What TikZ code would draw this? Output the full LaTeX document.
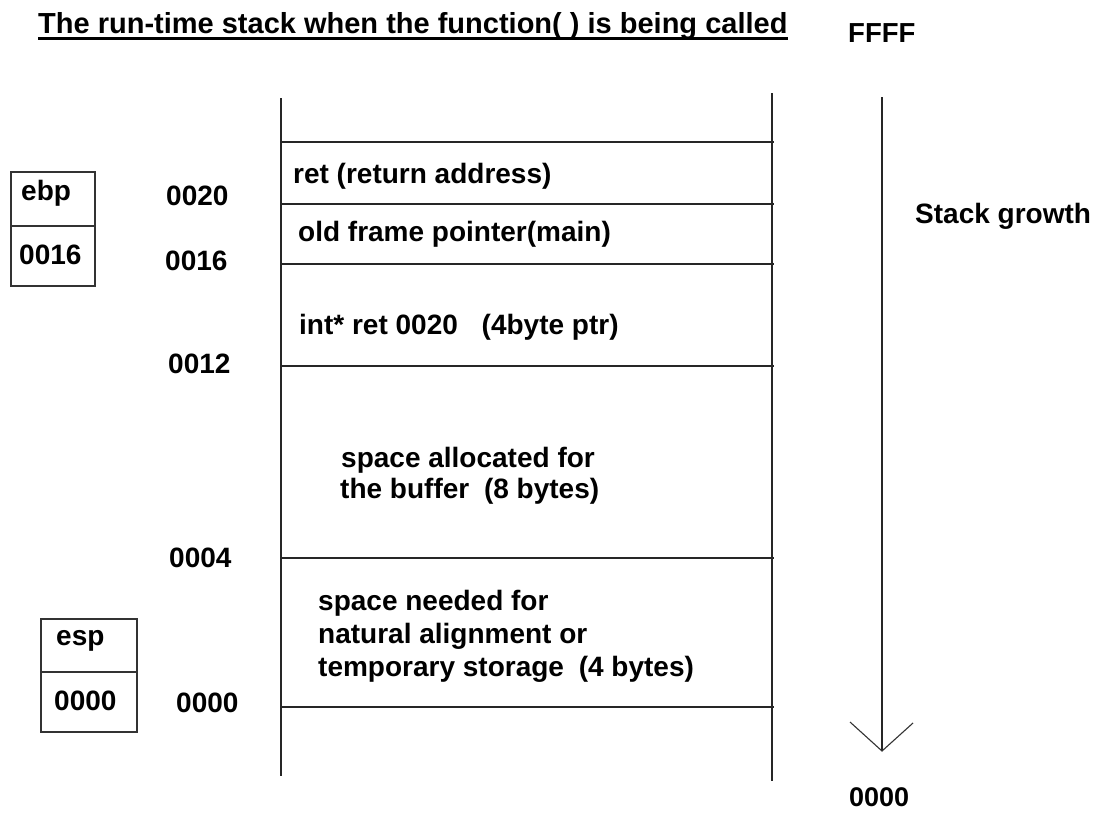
\documentclass[tikz,border=0pt]{standalone}
\usepackage{fontspec}
\setmainfont{Liberation Sans}
\begin{document}
\begin{tikzpicture}[x=1pt,y=-1pt,
  txt/.style={anchor=base west,inner sep=0pt,font=\fontsize{28}{33}\selectfont\bfseries},
  stackline/.style={line width=2pt,draw=black!85},
  boxline/.style={line width=1.6pt,draw=black!80},
  growline/.style={line width=1.8pt,draw=black!85},
  headline/.style={line width=1.1pt,draw=black!80}]
\useasboundingbox[fill=white] (0,0) rectangle (1110,812);
% title
\node[txt,font=\fontsize{29}{33}\selectfont\bfseries] (title) at (38,33) {The run-time stack when the function( ) is being called};
\draw[line width=3pt] ([yshift=-5.5pt]title.base west) -- ([yshift=-5.5pt]title.base east);
\node[txt,font=\fontsize{27.5}{33}\selectfont\bfseries] (ffff) at (848,42) {FFFF};
\node[txt,font=\fontsize{27}{33}\selectfont\bfseries] (bot) at (849,806) {0000};
% stack walls
\coordinate (LT) at (281,98);  \coordinate (LB) at (281,776);
\coordinate (RT) at (772,93);  \coordinate (RB) at (772,781);
\draw[stackline] (LT) -- (LB);
\draw[stackline] (RT) -- (RB);
\foreach \y in {142,204,264,366,558,707}{
  \draw[stackline] (281,\y) -- (774,\y);
}
% stack contents
\node[txt] (s1) at (293,183) {ret (return address)};
\node[txt] (s2) at (298,241) {old frame pointer(main)};
\node[txt] (s3) at (299,334) {int* ret 0020\hspace{0.85em}(4byte ptr)};
\node[txt] (s4) at (341,467) {space allocated for};
\node[txt] (s5) at (340,498) {the buffer\hspace{0.25em} (8 bytes)};
\node[txt] (s6) at (318,610) {space needed for};
\node[txt] (s7) at (318,643) {natural alignment or};
\node[txt] (s8) at (318,676) {temporary storage\hspace{0.25em} (4 bytes)};
% address labels
\node[txt] (a20) at (166,205) {0020};
\node[txt] (a16) at (165,270) {0016};
\node[txt] (a12) at (168,373) {0012};
\node[txt] (a04) at (169,567) {0004};
\node[txt] (a00) at (176,712) {0000};
% ebp box
\draw[boxline] (11,172) rectangle (95,286);
\draw[boxline] (11,226) -- (95,226);
\node[txt] (ebp) at (21,200) {ebp};
\node[txt] (ebpv) at (19,264) {0016};
% esp box
\draw[boxline] (41,619) rectangle (137,732);
\draw[boxline] (41,672) -- (137,672);
\node[txt] (esp) at (56,645) {esp};
\node[txt] (espv) at (54,710) {0000};
% stack growth arrow
\coordinate (gtop) at (882,97);
\coordinate (gtip) at (882,751);
\coordinate (hl) at (850,722);
\coordinate (hr) at (913,723);
\draw[growline] (gtop) -- (gtip);
\draw[headline] (hl) -- (gtip) -- (hr);
\node[txt] (grow) at (915,223) {Stack growth};
\end{tikzpicture}
\end{document}
